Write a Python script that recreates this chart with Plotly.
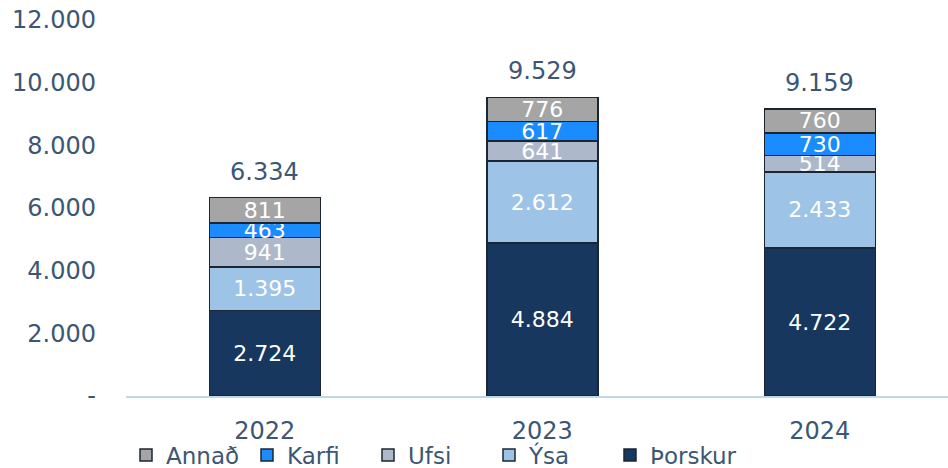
import plotly.graph_objects as go

years = ["2022", "2023", "2024"]
thorskur = [2724, 4884, 4722]
ysa = [1395, 2612, 2433]
ufsi = [941, 641, 514]
karfi = [463, 617, 730]
annad = [811, 776, 760]
totals = [6334, 9529, 9159]

y_tickvals = [0, 2000, 4000, 6000, 8000, 10000, 12000]
y_ticktext = ["-", "2.000", "4.000", "6.000", "8.000", "10.000", "12.000"]

series = [
    ("Þorskur", thorskur, "#17375e"),
    ("Ýsa", ysa, "#9dc3e6"),
    ("Ufsi", ufsi, "#adb9ca"),
    ("Karfi", karfi, "#1a8cff"),
    ("Annað", annad, "#a5a5a5"),
]

txt_col = "#3b5775"
font_fam = "DejaVu Sans, Verdana, sans-serif"

fig = go.Figure()
# invisible spacer entry so the last legend item is not clipped
fig.add_trace(go.Scatter(
    x=[None], y=[None], mode="markers", name=" ",
    marker=dict(color="rgba(0,0,0,0)", size=1), hoverinfo="skip",
))
for name, vals, col in series:
    fig.add_trace(go.Bar(
        x=years, y=vals, name=name,
        marker=dict(color=col, line=dict(color="#1b2632", width=1.5)),
        width=0.40,
        texttemplate="%{y:,.0f}",
        textposition="inside",
        insidetextanchor="middle",
        textangle=0,
        textfont=dict(color="white", size=22, family=font_fam),
    ))

for i, t in enumerate(totals):
    fig.add_annotation(
        x=i, y=t, xref="x", yref="y",
        text=f"{t:,}".replace(",", "."), showarrow=False,
        yanchor="bottom", yshift=10,
        font=dict(size=24, color=txt_col, family=font_fam),
    )

fig.update_layout(
    width=948, height=468,
    barmode="stack",
    separators=",.",
    paper_bgcolor="white", plot_bgcolor="white",
    margin=dict(l=126, r=0, t=20, b=72, autoexpand=False),
    font=dict(family=font_fam, color=txt_col, size=22),
    uniformtext=dict(minsize=21, mode="show"),
    showlegend=True,
    legend=dict(
        orientation="h", traceorder="reversed",
        x=0.0, xanchor="left", y=-0.157, yanchor="middle",
        font=dict(size=23, color=txt_col, family=font_fam),
        entrywidth=76, entrywidthmode="pixels",
        itemwidth=30, bgcolor="rgba(0,0,0,0)",
        tracegroupgap=0,
    ),
    xaxis=dict(
        type="category",
        range=[-0.5, 2.462], showline=True, linecolor="#bdd7ee", linewidth=2,
        showgrid=False, ticks="", ticklabelstandoff=12,
        tickfont=dict(size=24, color=txt_col),
    ),
    yaxis=dict(
        range=[0, 12000], tickvals=y_tickvals, ticktext=y_ticktext,
        showgrid=False, zeroline=False, showline=False, ticks="",
        ticklabelstandoff=29, ticklabeloverflow="allow",
        tickfont=dict(size=24, color=txt_col),
    ),
)

fig.write_html("out.html", config={"displayModeBar": False},
               post_script="document.body.style.margin='0';")
